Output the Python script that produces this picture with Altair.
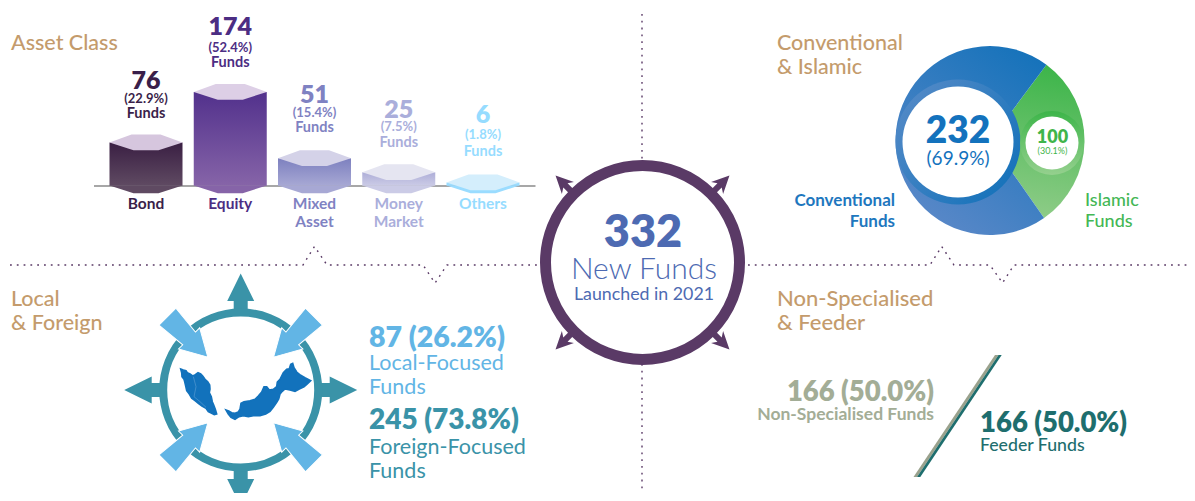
import altair as alt
import pandas as pd

# ---------- values ----------
ASSET_NAMES = ["Bond", "Equity", "Mixed Asset", "Money Market", "Others"]
ASSET_FUNDS = [76, 174, 51, 25, 6]
ASSET_PCT = ["(22.9%)", "(52.4%)", "(15.4%)", "(7.5%)", "(1.8%)"]
TYPE_NAMES = ["Islamic", "Conventional"]
TYPE_FUNDS = [100, 232]
TOTAL = 332

# ---------- layout ----------
W, H = 1179, 485
FONT = "Lato"
PX = alt.Scale(domain=[8, 8 + W], range=[0, W], nice=False, zero=False)
PY = alt.Scale(domain=[8, 8 + H], range=[0, H], nice=False, zero=False)
FUNDS_Y = alt.Scale(domain=[0, 174], range=[177.7, 84], nice=False, zero=False)
CAT_X = alt.Scale(type="point", domain=ASSET_NAMES, range=[138, 475], padding=0)
NOAX = None
TAN = "#c49b6c"
PURPLE = "#5a3a66"
TEAL = "#3a93a8"
SKY = "#62b5e5"


def path(pts):
    return "M" + "L".join(f"{x},{y}" for x, y in pts) + "Z"


def grad(c1, c2, x1=0, y1=0, x2=0, y2=1):
    return alt.Gradient(gradient="linear", x1=x1, y1=y1, x2=x2, y2=y2,
                        stops=[alt.GradientStop(color=c1, offset=0),
                               alt.GradientStop(color=c2, offset=1)])


def sym(x, y, shape, fill=None, angles=(0,), **kw):
    """A custom path placed at pixel (x, y) of the reference picture."""
    df = pd.DataFrame({"x": [x] * len(angles), "y": [y] * len(angles), "a": list(angles)})
    mk = dict(shape=shape, size=4, opacity=1, strokeWidth=0)
    if fill is not None:
        mk.update(filled=True, fill=fill)
    mk.update(kw)
    return alt.Chart(df).mark_point(**mk).encode(
        x=alt.X("x:Q", scale=PX, axis=NOAX), y=alt.Y("y:Q", scale=PY, axis=NOAX),
        angle=alt.Angle("a:Q", scale=alt.Scale(domain=[0, 360], range=[0, 360])))


def circle(x, y, d, fill="white", stroke=None, sw=0):
    df = pd.DataFrame({"x": [x], "y": [y]})
    kw = dict(shape="circle", size=d * d, filled=True, fill=fill, opacity=1, strokeWidth=sw)
    if stroke is not None:
        kw["stroke"] = stroke
    return alt.Chart(df).mark_point(**kw).encode(
        x=alt.X("x:Q", scale=PX, axis=NOAX), y=alt.Y("y:Q", scale=PY, axis=NOAX))


def polyline(points, color, width, dash=None):
    df = pd.DataFrame({"x": [p[0] for p in points], "y": [p[1] for p in points],
                       "o": list(range(len(points)))})
    kw = dict(color=color, strokeWidth=width)
    if dash:
        kw["strokeDash"] = dash
    return alt.Chart(df).mark_line(**kw).encode(
        x=alt.X("x:Q", scale=PX, axis=NOAX), y=alt.Y("y:Q", scale=PY, axis=NOAX), order="o:Q")


layers = []

# ---------- dotted dividers ----------
DOT = [1.8, 5]
for seg in (
    [(10, 265), (303, 265), (314.5, 246.5), (327, 265), (423, 265), (435, 283), (447, 265), (540, 265)],
    [(748, 265), (930, 265), (941.7, 246.5), (954, 265), (990, 265), (1002.5, 283), (1014, 265), (1192, 265)],
    [(642, 14), (642, 162)],
    [(642, 364), (642, 501)],
):
    layers.append(polyline(seg, PURPLE, 1.4, DOT))

# ---------- asset class bars ----------
layers.append(polyline([(94, 186), (535.5, 186)], "#8a8a8a", 1.5))
BAR_STYLE = [
    dict(top="#d6c6de", c1="#3a1f43", c2="#5f4a62", txt="#3a1f4a", off=-2.3, dys=(-56, -42, -27)),
    dict(top="#ddcfe6", c1="#52318c", c2="#8664a8", txt="#4c2d83", off=0, dys=(-57, -40.5, -25.5)),
    dict(top="#d4d2e8", c1="#7d80bf", c2="#a7a8d4", txt="#7f82c2", off=0, dys=(-55, -41.5, -26)),
    dict(top="#e5e5f1", c1="#aeaed8", c2="#cbcbe6", txt="#aaaedb", off=0, dys=(-54.5, -41, -25.5)),
    dict(top="#d4eefc", c1="#9adcff", c2="#9adcff", txt="#96dcff", off=0, dys=(-59, -43, -26.5)),
]
HEX = path([(-36.5, 0), (-14.5, -8), (14.5, -8), (36.5, 0), (12.5, 7.7), (-12.5, 7.7)])
FOOT = path([(-36.5, -0.2), (-12.5, 7.5), (12.5, 7.5), (36.5, -0.2)])
for name, funds, pct, st in zip(ASSET_NAMES, ASSET_FUNDS, ASSET_PCT, BAR_STYLE):
    row = pd.DataFrame({"cat": [name], "funds": [funds], "zero": [0], "pct": [pct],
                        "n": [str(funds)], "f": ["Funds"]})
    X = alt.X("cat:N", scale=CAT_X, axis=NOAX)
    Yv = alt.Y("funds:Q", scale=FUNDS_Y, axis=NOAX)
    Y0 = alt.Y("zero:Q", scale=FUNDS_Y, axis=NOAX)
    layers.append(alt.Chart(row).mark_bar(color=grad(st["c1"], st["c2"]), width=73, yOffset=st["off"], opacity=1)
                  .encode(x=X, y=Yv, y2=alt.Y2("zero:Q")))
    layers.append(alt.Chart(row).mark_point(shape=FOOT, size=4, filled=True, fill=st["c2"], opacity=1, strokeWidth=0)
                  .encode(x=X, y=Y0))
    layers.append(alt.Chart(row).mark_point(shape=HEX, size=4, filled=True, fill=st["top"], opacity=1,
                                            strokeWidth=0, yOffset=st["off"]).encode(x=X, y=Yv))
    base = dict(font=FONT, color=st["txt"], align="center", baseline="alphabetic")
    layers.append(alt.Chart(row).mark_text(fontSize=25, fontWeight=800, dy=st["dys"][0], **base)
                  .encode(x=X, y=Yv, text="n:N"))
    layers.append(alt.Chart(row).mark_text(fontSize=13, fontWeight=700, dy=st["dys"][1], **base)
                  .encode(x=X, y=Yv, text="pct:N"))
    layers.append(alt.Chart(row).mark_text(fontSize=14.5, fontWeight=700, dy=st["dys"][2], **base)
                  .encode(x=X, y=Yv, text="f:N"))
    for i, line in enumerate(name.split(" ")):
        lab = pd.DataFrame({"cat": [name], "y": [209 + 18 * i], "t": [line]})
        layers.append(alt.Chart(lab).mark_text(fontSize=15.5, fontWeight=700, **base)
                      .encode(x=X, y=alt.Y("y:Q", scale=PY, axis=NOAX), text="t:N"))

# ---------- conventional / islamic donut ----------
THETA0 = 0.64
THETA = alt.Scale(domain=[0, sum(TYPE_FUNDS)], range=[THETA0, THETA0 + 6.28319])
starts = [0, TYPE_FUNDS[0]]
ends = [TYPE_FUNDS[0], sum(TYPE_FUNDS)]
ARC_FILL = [grad("#3db54a", "#8fcc88", 0.5, 0, 0.4, 1), grad("#1472ba", "#5a88c8", 0.9, 0, 0.3, 1)]
for n, s, e, f in zip(TYPE_NAMES, starts, ends, ARC_FILL):
    seg = pd.DataFrame({"name": [n], "s": [s], "e": [e]})
    layers.append(alt.Chart(seg).mark_arc(radius=94.5, fill=f, opacity=1).encode(
        theta=alt.Theta("s:Q", scale=THETA), theta2=alt.Theta2("e:Q"),
        x=alt.value(982), y=alt.value(132.5)))
layers.append(circle(958, 142, 125, fill=grad("#5a8cc8", "#1472ba", 0, 0, 1, 0.8)))
layers.append(circle(958, 142, 111, fill="white"))
layers.append(circle(1052, 143, 64, fill=grad("#3db54a", "#95d08e", 0.5, 0, 0.5, 1)))
layers.append(circle(1052, 143, 53, fill="white"))

# ---------- centre badge ----------
HEAD = path([(0, -123), (8.5, -105.5), (3, -109), (3, -96), (-3, -96), (-3, -109), (-8.5, -105.5)])
layers.append(sym(642.5, 262.5, HEAD, PURPLE, angles=(45, 135, 225, 315)))
layers.append(circle(642.5, 262.5, 194, fill="white", stroke=PURPLE, sw=11))

# ---------- compass ----------
OUT = path([(0, -116.5), (13.5, -89), (7, -89), (7, -72), (-7, -72), (-7, -89), (-13.5, -89)])
IN = path([(0, -46.5), (15, -73), (9, -73), (12, -103.6), (-12, -103.6), (-9, -73), (-15, -73)])
layers.append(sym(240.7, 390, OUT, TEAL, angles=(0, 90, 180, 270)))
layers.append(circle(240.7, 390, 155, fill="white", stroke=TEAL, sw=8))
layers.append(sym(240.7, 390, IN, SKY, angles=(45, 135, 225, 315), stroke="white", strokeWidth=1))

PENINSULA = [(32, 57), (40, 60), (48, 62), (52, 68), (60, 72), (68, 78), (76, 74), (84, 68), (92, 72), (98, 78),
             (105, 88), (113, 95), (119, 105), (120, 118), (118, 128), (124, 140), (127, 155), (131, 165), (136, 178),
             (140, 192), (133, 194), (125, 190), (115, 185), (108, 175), (96, 168), (85, 160), (75, 152), (65, 145),
             (58, 132), (50, 122), (47, 108), (44, 95), (42, 88), (36, 80), (35, 68)]
BORNEO = [(168, 180), (176, 183), (185, 188), (195, 190), (205, 186), (210, 178), (213, 160), (222, 155), (240, 152),
          (255, 148), (265, 138), (275, 126), (282, 110), (290, 110), (298, 120), (310, 118), (320, 110), (322, 96),
          (330, 88), (340, 68), (350, 58), (358, 56), (362, 43), (368, 40), (372, 53), (380, 66), (392, 76), (405, 83),
          (422, 92), (412, 102), (402, 110), (388, 117), (375, 124), (360, 120), (345, 117), (337, 124), (330, 132),
          (326, 147), (320, 157), (310, 172), (300, 184), (287, 192), (270, 197), (250, 197), (235, 200), (220, 197),
          (207, 200), (195, 208), (183, 202), (175, 192)]
STATES = [(70, 80), (78, 110), (72, 140), (90, 155), (108, 172)]
MAP = path([(round(x / 3, 1), round(y / 3, 1)) for x, y in PENINSULA]) + \
    path([(round(x / 3, 1), round(y / 3, 1)) for x, y in BORNEO])
layers.append(sym(170, 350, MAP, "#1272bc", stroke="#1272bc", strokeWidth=1.6))
layers.append(polyline([(170 + x / 3, 350 + y / 3) for x, y in STATES], "#6fa8d8", 0.5))

# ---------- slash ----------
layers.append(sym(0, 0, path([(995, 355), (998.5, 355), (917, 477), (913.5, 477)]), "#9aa18c"))
layers.append(sym(0, 0, path([(998.5, 355), (1001.7, 355), (920.3, 477), (917, 477)]), "#1e6e6e"))

# ---------- free text ----------
BLUE = "#1372bd"
GREEN = "#3fb54a"
OLIVE = "#a3ad96"
DTEAL = "#1e6e6e"
NAVY = "#4d6ab2"
TEXTS = [
    ("Asset Class", 11, 49.7, 21.5, TAN, 500, "left"),
    ("Conventional", 777, 49.7, 21.5, TAN, 500, "left"),
    ("& Islamic", 777, 73.7, 21.5, TAN, 500, "left"),
    ("Local", 11, 305.7, 21.5, TAN, 500, "left"),
    ("& Foreign", 11, 329.7, 21.5, TAN, 500, "left"),
    ("Non-Specialised", 777, 305.7, 22, TAN, 500, "left"),
    ("& Feeder", 777, 329.7, 22, TAN, 500, "left"),
    (str(TOTAL), 643, 247, 45, NAVY, 800, "center"),
    ("New Funds", 644, 279, 30, NAVY, 300, "center"),
    ("Launched in 2021", 644, 300, 17.8, NAVY, 400, "center"),
    (str(TYPE_FUNDS[1]), 958, 143, 37, BLUE, 800, "center"),
    ("(69.9%)", 958, 165, 19, BLUE, 400, "center"),
    (str(TYPE_FUNDS[0]), 1052.5, 143, 18, GREEN, 800, "center"),
    ("(30.1%)", 1052.5, 153.5, 9, GREEN, 400, "center"),
    ("Conventional", 895, 206, 17, "#1e77be", 700, "right"),
    ("Funds", 895, 227, 17, "#1e77be", 700, "right"),
    ("Islamic", 1085, 206, 18, "#44b755", 500, "left"),
    ("Funds", 1085, 227, 18, "#44b755", 500, "left"),
    ("87 (26.2%)", 369, 347, 28.5, SKY, 800, "left"),
    ("Local-Focused", 369, 370, 21.5, SKY, 400, "left"),
    ("Funds", 369, 394, 21.5, SKY, 400, "left"),
    ("245 (73.8%)", 369, 429, 28, TEAL, 800, "left"),
    ("Foreign-Focused", 369, 454, 21.5, TEAL, 400, "left"),
    ("Funds", 369, 478, 21.5, TEAL, 400, "left"),
    ("166 (50.0%)", 934, 401, 27.5, OLIVE, 800, "right"),
    ("Non-Specialised Funds", 934, 420, 17.5, OLIVE, 700, "right"),
    ("166 (50.0%)", 980, 432, 27.5, DTEAL, 800, "left"),
    ("Feeder Funds", 980, 451, 17.7, DTEAL, 500, "left"),
]
for t, x, y, size, col, wt, al in TEXTS:
    df = pd.DataFrame({"t": [t], "x": [x], "y": [y]})
    layers.append(alt.Chart(df).mark_text(font=FONT, fontSize=size, fontWeight=wt, color=col, align=al,
                                          baseline="alphabetic").encode(
        x=alt.X("x:Q", scale=PX, axis=NOAX), y=alt.Y("y:Q", scale=PY, axis=NOAX), text="t:N"))

chart = alt.layer(*layers).resolve_scale(x="independent", y="independent", theta="independent").properties(
    width=W, height=H, padding=0, background="white",
    autosize=alt.AutoSizeParams(type="none", contains="content"),
).configure_view(stroke=None)

chart.save("out.html", embed_options={"renderer": "svg", "actions": False})
